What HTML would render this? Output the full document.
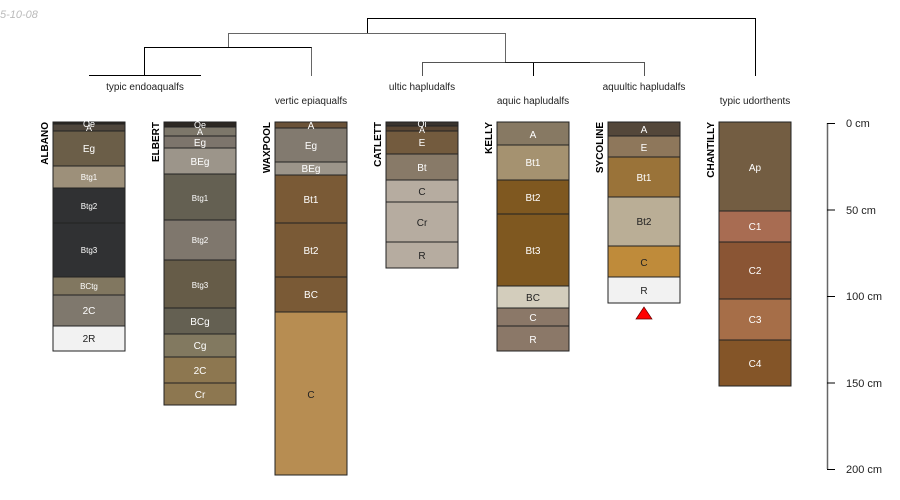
<!DOCTYPE html>
<html><head><meta charset="utf-8"><style>html,body{margin:0;padding:0;background:#fff}svg{display:block}text{font-family:"Liberation Sans",sans-serif}</style></head><body>
<svg width="900" height="500" viewBox="0 0 900 500" xmlns="http://www.w3.org/2000/svg">
<text x="0" y="18" font-size="11" font-style="italic" fill="#bbb">5-10-08</text>
<g fill="none" stroke-width="1">
<path d="M367.5 33V18.5H755.5V76" stroke="#000"/>
<path d="M228.5 47V33.5H505.5V62" stroke="#666"/>
<path d="M144.5 75V47.5H311.5V76" stroke="#000"/>
<path d="M311.5 47.5V76" stroke="#666"/>
<path d="M89 75.5H201" stroke="#000"/>
<path d="M422.5 76V62.5H644.5V76" stroke="#555"/>
<path d="M533.5 62.5V76" stroke="#000"/>
<path d="M505 62.5H590" stroke="#222"/>
</g>
<g font-size="10" fill="#222" text-anchor="middle">
<text x="145" y="90">typic endoaqualfs</text>
<text x="311" y="104">vertic epiaqualfs</text>
<text x="422" y="90">ultic hapludalfs</text>
<text x="533" y="104">aquic hapludalfs</text>
<text x="644" y="90">aquultic hapludalfs</text>
<text x="755" y="104">typic udorthents</text>
</g>
<g font-size="10" font-weight="bold" fill="#000" text-anchor="end">
<text transform="translate(48,122) rotate(-90)">ALBANO</text>
<text transform="translate(159,122) rotate(-90)">ELBERT</text>
<text transform="translate(270,122) rotate(-90)">WAXPOOL</text>
<text transform="translate(381,122) rotate(-90)">CATLETT</text>
<text transform="translate(492,122) rotate(-90)">KELLY</text>
<text transform="translate(603,122) rotate(-90)">SYCOLINE</text>
<text transform="translate(714,122) rotate(-90)">CHANTILLY</text>
</g>
<g stroke="#222" stroke-width="1" font-size="10" text-anchor="middle">
<!-- ALBANO -->
<rect x="53" y="122" width="72" height="2" fill="#2d2823"/>
<rect x="53" y="124" width="72" height="7" fill="#4f463c"/>
<rect x="53" y="131" width="72" height="35" fill="#6b5e48"/>
<rect x="53" y="166" width="72" height="22" fill="#9d907a"/>
<rect x="53" y="188" width="72" height="35" fill="#303133"/>
<rect x="53" y="223" width="72" height="54" fill="#303133"/>
<rect x="53" y="277" width="72" height="18" fill="#817760"/>
<rect x="53" y="295" width="72" height="31" fill="#7f786d"/>
<rect x="53" y="326" width="72" height="25" fill="#f2f2f2"/>
<!-- ELBERT -->
<rect x="164" y="122" width="72" height="5" fill="#2d2823"/>
<rect x="164" y="127" width="72" height="9" fill="#7d776a"/>
<rect x="164" y="136" width="72" height="12" fill="#7d756c"/>
<rect x="164" y="148" width="72" height="26" fill="#9c958a"/>
<rect x="164" y="174" width="72" height="46" fill="#646052"/>
<rect x="164" y="220" width="72" height="40" fill="#7f776d"/>
<rect x="164" y="260" width="72" height="48" fill="#665c48"/>
<rect x="164" y="308" width="72" height="26" fill="#646052"/>
<rect x="164" y="334" width="72" height="23" fill="#827960"/>
<rect x="164" y="357" width="72" height="26" fill="#8d7750"/>
<rect x="164" y="383" width="72" height="22" fill="#8d7750"/>
<!-- WAXPOOL -->
<rect x="275" y="122" width="72" height="6" fill="#6a5238"/>
<rect x="275" y="128" width="72" height="34" fill="#827a6f"/>
<rect x="275" y="162" width="72" height="13" fill="#9c958a"/>
<rect x="275" y="175" width="72" height="48" fill="#7a5a36"/>
<rect x="275" y="223" width="72" height="54" fill="#7a5a36"/>
<rect x="275" y="277" width="72" height="35" fill="#7a5a36"/>
<rect x="275" y="312" width="72" height="163" fill="#b78d52"/>
<!-- CATLETT -->
<rect x="386" y="122" width="72" height="4" fill="#3a342e"/>
<rect x="386" y="126" width="72" height="5" fill="#5a4632"/>
<rect x="386" y="131" width="72" height="23" fill="#735b3e"/>
<rect x="386" y="154" width="72" height="26" fill="#887a68"/>
<rect x="386" y="180" width="72" height="22" fill="#b6aca0"/>
<rect x="386" y="202" width="72" height="40" fill="#b6aca0"/>
<rect x="386" y="242" width="72" height="26" fill="#b6aca0"/>
<!-- KELLY -->
<rect x="497" y="122" width="72" height="23" fill="#877963"/>
<rect x="497" y="145" width="72" height="35" fill="#a59270"/>
<rect x="497" y="180" width="72" height="34" fill="#7f5820"/>
<rect x="497" y="214" width="72" height="72" fill="#7f5820"/>
<rect x="497" y="286" width="72" height="22" fill="#d3cdbc"/>
<rect x="497" y="308" width="72" height="18" fill="#8b7868"/>
<rect x="497" y="326" width="72" height="25" fill="#8b7868"/>
<!-- SYCOLINE -->
<rect x="608" y="122" width="72" height="14" fill="#54473a"/>
<rect x="608" y="136" width="72" height="21" fill="#8e775b"/>
<rect x="608" y="157" width="72" height="40" fill="#9a7339"/>
<rect x="608" y="197" width="72" height="49" fill="#baae96"/>
<rect x="608" y="246" width="72" height="31" fill="#bf8b3a"/>
<rect x="608" y="277" width="72" height="26" fill="#f2f2f2"/>
<!-- CHANTILLY -->
<rect x="719" y="122" width="72" height="89" fill="#735d42"/>
<rect x="719" y="211" width="72" height="31" fill="#a86c52"/>
<rect x="719" y="242" width="72" height="57" fill="#8a5534"/>
<rect x="719" y="299" width="72" height="41" fill="#a66e48"/>
<rect x="719" y="340" width="72" height="46" fill="#845528"/>
</g>
<polygon points="644,307 636,319 652,319" fill="#f00" stroke="#600" stroke-width="0.7"/>
<g font-size="10" text-anchor="middle" fill="#fff">
<text x="89" y="127" font-size="9">Oe</text><text x="89" y="131" font-size="9">A</text>
<text x="89" y="152">Eg</text>
<text x="89" y="180" font-size="8">Btg1</text>
<text x="89" y="209" font-size="8">Btg2</text>
<text x="89" y="253" font-size="8">Btg3</text>
<text x="89" y="289" font-size="8">BCtg</text>
<text x="89" y="314">2C</text>
<text x="89" y="342" fill="#222">2R</text>
<text x="200" y="128" font-size="9">Oe</text><text x="200" y="135" font-size="9">A</text>
<text x="200" y="146">Eg</text>
<text x="200" y="165">BEg</text>
<text x="200" y="201" font-size="8">Btg1</text>
<text x="200" y="243" font-size="8">Btg2</text>
<text x="200" y="288" font-size="8">Btg3</text>
<text x="200" y="325">BCg</text>
<text x="200" y="349">Cg</text>
<text x="200" y="374">2C</text>
<text x="200" y="398">Cr</text>
<text x="311" y="129">A</text>
<text x="311" y="149">Eg</text>
<text x="311" y="172">BEg</text>
<text x="311" y="203">Bt1</text>
<text x="311" y="254">Bt2</text>
<text x="311" y="298">BC</text>
<text x="311" y="398" fill="#222">C</text>
<text x="422" y="127" font-size="9">Oi</text><text x="422" y="133" font-size="9">A</text>
<text x="422" y="146">E</text>
<text x="422" y="171">Bt</text>
<text x="422" y="195" fill="#222">C</text>
<text x="422" y="226" fill="#222">Cr</text>
<text x="422" y="259" fill="#222">R</text>
<text x="533" y="138">A</text>
<text x="533" y="166">Bt1</text>
<text x="533" y="201">Bt2</text>
<text x="533" y="254">Bt3</text>
<text x="533" y="301" fill="#222">BC</text>
<text x="533" y="321">C</text>
<text x="533" y="343">R</text>
<text x="644" y="133">A</text>
<text x="644" y="151">E</text>
<text x="644" y="181">Bt1</text>
<text x="644" y="225" fill="#222">Bt2</text>
<text x="644" y="266" fill="#222">C</text>
<text x="644" y="294" fill="#222">R</text>
<text x="755" y="171">Ap</text>
<text x="755" y="230">C1</text>
<text x="755" y="274">C2</text>
<text x="755" y="323">C3</text>
<text x="755" y="367">C4</text>
</g>
<g stroke="#666" stroke-width="1.5"><path d="M827.5 123V469"/></g>
<g stroke="#000" stroke-width="1"><path d="M827 123.5H835M827 210H835M827 296.5H835M827 383H835M827 469.5H835"/></g>
<g font-size="11" fill="#222">
<text x="846" y="127">0 cm</text>
<text x="846" y="214">50 cm</text>
<text x="846" y="300">100 cm</text>
<text x="846" y="387">150 cm</text>
<text x="846" y="473">200 cm</text>
</g>
</svg>
</body></html>
